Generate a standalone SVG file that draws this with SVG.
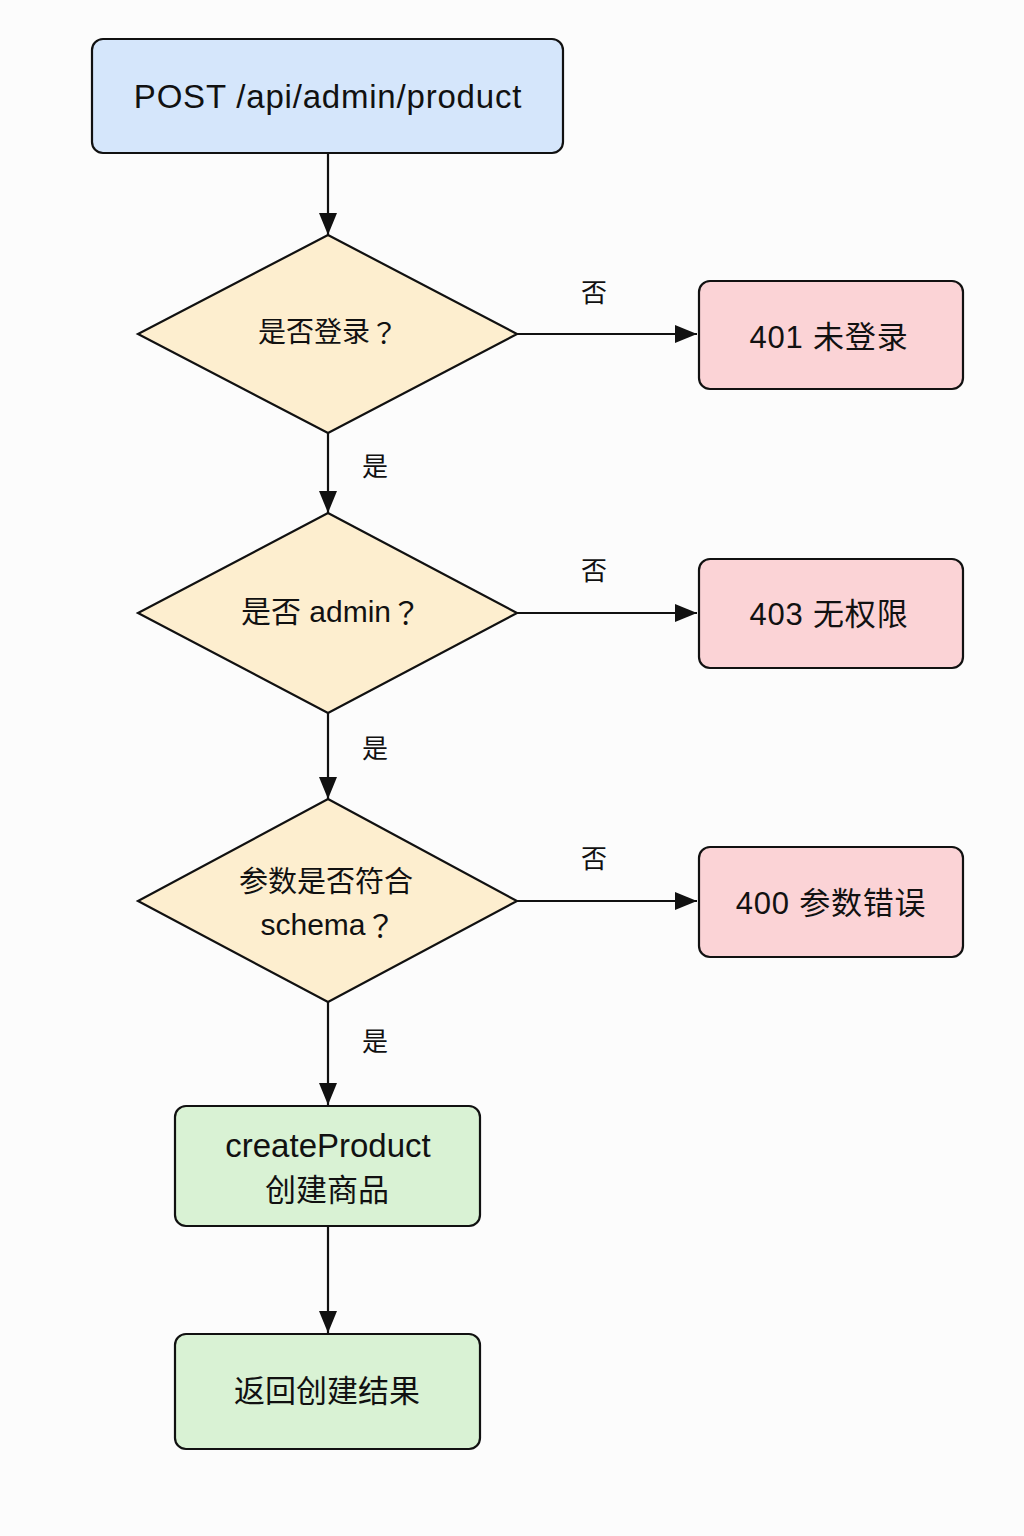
<svg xmlns="http://www.w3.org/2000/svg" width="1024" height="1536" viewBox="0 0 1024 1536">
<style>
.node{stroke:#111;stroke-width:2.2}
.blue{fill:#d5e6fb}
.yellow{fill:#fdeecf}
.red{fill:#fbd3d6}
.green{fill:#d9f2d4}
text{font-family:"Liberation Sans","Noto Sans CJK SC",sans-serif;fill:#111;text-anchor:middle;dominant-baseline:central}
.t{font-size:31px;letter-spacing:0.8px}
.c{font-size:31px}
.big{font-size:33px}
.d{font-size:28px}
.dl{font-size:30px}
.q{font-family:"Noto Sans CJK JP",sans-serif}
.lbl{font-size:26px}
.edge{stroke:#111;stroke-width:2.2;fill:none;marker-end:url(#arr)}
</style>
<defs>
<marker id="arr" markerUnits="userSpaceOnUse" markerWidth="22" markerHeight="22" viewBox="0 0 22 22" refX="22" refY="11" orient="auto">
<path d="M0,2 L22,11 L0,20 Z" fill="#111"/>
</marker>
</defs>
<rect width="1024" height="1536" fill="#fcfcfc"/>
<g id="connectors">
<path class="edge" d="M328,153 V235"/>
<path class="edge" d="M517,334 H697"/>
<path class="edge" d="M328,433 V513"/>
<path class="edge" d="M517,613 H697"/>
<path class="edge" d="M328,713 V799"/>
<path class="edge" d="M517,901 H697"/>
<path class="edge" d="M328,1002 V1105"/>
<path class="edge" d="M328,1226 V1333"/>
<text class="lbl" x="594" y="293">否</text>
<text class="lbl" x="375" y="467">是</text>
<text class="lbl" x="594" y="571">否</text>
<text class="lbl" x="375" y="749">是</text>
<text class="lbl" x="594" y="859">否</text>
<text class="lbl" x="375" y="1042">是</text>
</g>
<g id="start">
<rect class="node blue" x="92" y="39" width="471" height="114" rx="11"/>
<text class="big" x="328" y="96" style="letter-spacing:0.8px">POST /api/admin/product</text>
</g>
<g id="d1">
<polygon class="node yellow" points="328,235 517,334 328,433 138,334"/>
<text class="d" x="328" y="332">是否登录<tspan class="q">？</tspan></text>
</g>
<g id="e401">
<rect class="node red" x="699" y="281" width="264" height="108" rx="11"/>
<text class="t" x="829" y="337">401 未登录</text>
</g>
<g id="d2">
<polygon class="node yellow" points="328,513 517,613 328,713 138,613"/>
<text class="dl" x="331" y="611">是否 admin<tspan class="q">？</tspan></text>
</g>
<g id="e403">
<rect class="node red" x="699" y="559" width="264" height="109" rx="11"/>
<text class="t" x="829" y="614">403 无权限</text>
</g>
<g id="d3">
<polygon class="node yellow" points="328,799 517,901 328,1002 138,901"/>
<text class="d" x="326" y="882" style="font-size:29px">参数是否符合</text>
<text class="dl" x="328" y="924">schema<tspan class="q">？</tspan></text>
</g>
<g id="e400">
<rect class="node red" x="699" y="847" width="264" height="110" rx="11"/>
<text class="t" x="831" y="903">400 参数错误</text>
</g>
<g id="create">
<rect class="node green" x="175" y="1106" width="305" height="120" rx="11"/>
<text class="big" x="328" y="1145">createProduct</text>
<text class="c" x="327" y="1190">创建商品</text>
</g>
<g id="result">
<rect class="node green" x="175" y="1334" width="305" height="115" rx="11"/>
<text class="c" x="327" y="1391">返回创建结果</text>
</g>
</svg>
